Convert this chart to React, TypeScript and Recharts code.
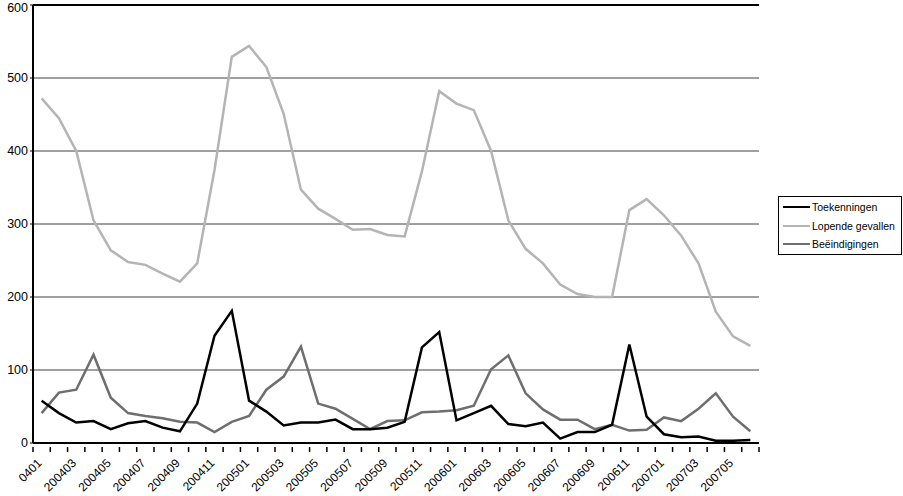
import { LineChart, Line, XAxis, YAxis, CartesianGrid, ReferenceLine } from "recharts";

const months = [
  "200401", "200402", "200403", "200404", "200405", "200406", "200407", "200408", "200409", "200410",
  "200411", "200412", "200501", "200502", "200503", "200504", "200505", "200506", "200507", "200508",
  "200509", "200510", "200511", "200512", "200601", "200602", "200603", "200604", "200605", "200606",
  "200607", "200608", "200609", "200610", "200611", "200612", "200701", "200702", "200703", "200704",
  "200705", "200706",
];

const toekenningen = [
  58, 41, 28, 30, 19, 27, 30, 21, 16, 54,
  147, 181, 58, 43, 24, 28, 28, 32, 19, 19,
  21, 29, 131, 152, 31, 41, 51, 26, 23, 28,
  6, 15, 15, 25, 135, 36, 12, 8, 9, 3,
  3, 4,
];

const lopendeGevallen = [
  472, 445, 400, 305, 264, 248, 244, 232, 221, 246,
  374, 529, 544, 515, 451, 347, 321, 307, 292, 293,
  285, 283, 372, 482, 465, 456, 400, 305, 266, 246,
  217, 204, 200, 200, 319, 334, 312, 284, 246, 180,
  146, 133,
];

const beeindigingen = [
  41, 69, 73, 121, 62, 41, 37, 34, 29, 28,
  15, 29, 37, 73, 91, 132, 54, 47, 33, 19,
  30, 31, 42, 43, 45, 51, 101, 120, 68, 46,
  32, 32, 19, 25, 17, 18, 35, 30, 47, 68,
  36, 16,
];

const yTicks = [0, 100, 200, 300, 400, 500, 600];

const data = months.map((m, i) => ({
  month: m,
  toek: toekenningen[i],
  lopend: lopendeGevallen[i],
  beeind: beeindigingen[i],
}));

const FONT = "'Liberation Sans', Arial, sans-serif";
const PLOT_W = 726;
const HALF = PLOT_W / months.length / 2;

const XTick = (props: any) => {
  const { x, y, index, payload } = props;
  const label = index % 2 === 0 ? (index === 0 ? payload.value.slice(2) : payload.value) : "";
  return (
    <g>
      <line x1={x - HALF} x2={x - HALF} y1={y - 4} y2={y + 1} stroke="#000" strokeWidth={1.5} />
      {index === months.length - 1 && (
        <line x1={x + HALF} x2={x + HALF} y1={y - 4} y2={y + 1} stroke="#000" strokeWidth={1.5} />
      )}
      {label && (
        <text
          transform={`translate(${x - 2},${y + 10}) rotate(-45)`}
          textAnchor="end"
          dy={4}
          fontSize={12}
          fill="#000"
          fontFamily={FONT}
        >
          {label}
        </text>
      )}
    </g>
  );
};

const legendItems = [
  { name: "Toekenningen", color: "#000000" },
  { name: "Lopende gevallen", color: "#b4b4b4" },
  { name: "Beëindigingen", color: "#6e6e6e" },
];

const LegendBox = () => (
  <div
    style={{
      position: "absolute",
      left: 778,
      top: 196,
      border: "1px solid #000",
      width: 124,
      height: 59,
      boxSizing: "border-box",
      padding: "1px 0 0 4px",
      fontFamily: FONT,
      fontSize: 10.5,
      background: "#fff",
    }}
  >
    {legendItems.map((it) => (
      <div key={it.name} style={{ display: "flex", alignItems: "center", height: 18.5 }}>
        <span style={{ display: "inline-block", width: 27, height: 2, background: it.color, marginRight: 2 }} />
        <span>{it.name}</span>
      </div>
    ))}
  </div>
);

export default function App() {
  return (
    <div style={{ position: "absolute", left: 0, top: 0, width: 903, height: 496, background: "#fff" }}>
      <LineChart width={903} height={496} data={data} margin={{ top: 5, right: 144, bottom: 0, left: 0 }}>
        <CartesianGrid vertical={false} stroke="#000" strokeOpacity={0.75} />
        <XAxis
          dataKey="month"
          interval={0}
          height={53}
          padding={{ left: HALF, right: HALF }}
          axisLine={{ stroke: "#000", strokeWidth: 2 }}
          tickLine={false}
          tick={<XTick />}
        />
        <YAxis
          domain={[0, 600]}
          ticks={yTicks}
          width={33}
          axisLine={{ stroke: "#000", strokeWidth: 2 }}
          tickLine={{ stroke: "#000" }}
          tickSize={3}
          tick={{ fontSize: 12.5, fill: "#000", fontFamily: FONT }}
        />
        <YAxis
          yAxisId="right"
          orientation="right"
          domain={[0, 600]}
          width={0}
          tick={false}
          tickLine={false}
          axisLine={{ stroke: "#000", strokeWidth: 2 }}
        />
        <ReferenceLine y={600} stroke="#000" strokeWidth={2} />
        <Line dataKey="lopend" stroke="#b4b4b4" strokeWidth={2.5} dot={false} isAnimationActive={false} />
        <Line dataKey="beeind" stroke="#6e6e6e" strokeWidth={2.5} dot={false} isAnimationActive={false} />
        <Line dataKey="toek" stroke="#000000" strokeWidth={2.5} dot={false} isAnimationActive={false} />
      </LineChart>
      <LegendBox />
    </div>
  );
}
